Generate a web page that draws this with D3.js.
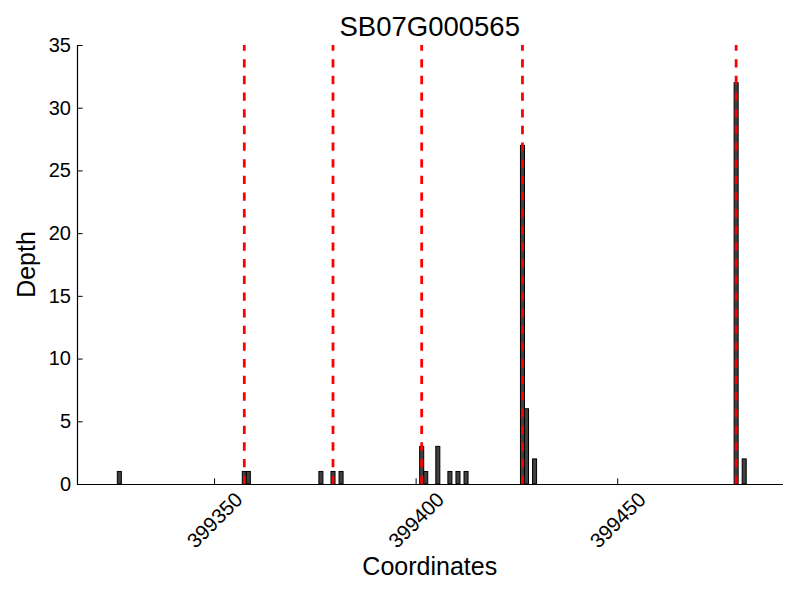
<!DOCTYPE html>
<html>
<head>
<meta charset="utf-8">
<script src="https://cdn.jsdelivr.net/npm/d3@7"></script>
<style>
    body { margin: 0; background: #ffffff; }
    svg { display: block; }
</style>
</head>
<body>
<svg id="chart_svg"></svg>
<script>
/**
 * Data
 */
var geneName = "SB07G000565";
// bin start coordinates (each bin is 1 bp wide) and read depth in it
var binStarts = [399326, 399357, 399358, 399376, 399379, 399381, 399401, 399402,
                 399405, 399408, 399410, 399412, 399426, 399427, 399429, 399479, 399481];
var depths    = [1, 1, 1, 1, 1, 1, 3, 1,
                 3, 1, 1, 1, 27, 6, 2, 32, 2];
// positions marked by the red dashed lines
var markPositions = [399357, 399379, 399401, 399426, 399479];
var xTicks = [399350, 399400, 399450];
var yTicks = [0, 5, 10, 15, 20, 25, 30, 35];

window.onload = function(){
    drawChart();
};

function drawChart() {
    var width = 800,
        height = 600,
        margin = {top: 45, bottom: 116, left: 77, right: 17.5};
    var font = "'Liberation Sans', Arial, sans-serif";

    var svg = d3.select("#chart_svg")
        .attr("width", width)
        .attr("height", height);

    var xScale = d3.scaleLinear()
        .domain([399316, 399491])
        .range([margin.left, width - margin.right]);

    var yScale = d3.scaleLinear()
        .domain([0, 35])
        .range([height - margin.bottom, margin.top]);

    var bars = binStarts.map(function(d, i){
        return {start: d, depth: depths[i]};
    });

    // bars
    svg.append("g")
        .selectAll("rect")
        .data(bars)
        .enter()
        .append("rect")
        .attr("x", function(d){ return xScale(d.start); })
        .attr("y", function(d){ return yScale(d.depth); })
        .attr("width", function(d){ return xScale(d.start + 1) - xScale(d.start); })
        .attr("height", function(d){ return yScale(0) - yScale(d.depth); })
        .style("fill", "#404040")
        .style("stroke", "#000000")
        .style("stroke-width", "1px");

    // red dashed marks, drawn from the bottom up so dashes start at 0
    svg.append("g")
        .selectAll("line")
        .data(markPositions)
        .enter()
        .append("line")
        .attr("x1", function(d){ return xScale(d + 0.5); })
        .attr("x2", function(d){ return xScale(d + 0.5); })
        .attr("y1", yScale(0))
        .attr("y2", yScale(35))
        .style("stroke", "#ff0000")
        .style("stroke-width", 2.78)
        .style("stroke-dasharray", "8.33,8.33");

    // y axis, ticks pointing inward
    var yAxis = d3.axisLeft(yScale)
        .tickValues(yTicks)
        .tickSizeInner(-5.6)
        .tickSizeOuter(0)
        .tickPadding(6);
    var gy = svg.append("g")
        .attr("transform", "translate(" + margin.left + ",0)")
        .call(yAxis);
    gy.selectAll("text")
        .style("font", "20px " + font)
        .style("fill", "#000");

    // x axis, ticks pointing inward
    var xAxis = d3.axisBottom(xScale)
        .tickValues(xTicks)
        .tickFormat(d3.format("d"))
        .tickSizeInner(-5.6)
        .tickSizeOuter(0);
    var gx = svg.append("g")
        .attr("transform", "translate(0," + yScale(0) + ")")
        .call(xAxis);
    gx.selectAll("text")
        .attr("x", 0)
        .attr("y", 36)
        .attr("dy", "0.35em")
        .attr("text-anchor", "middle")
        .attr("transform", "rotate(-45,0,36)")
        .style("font", "20.5px " + font)
        .style("fill", "#000");

    svg.selectAll(".domain")
        .style("stroke", "#000")
        .style("stroke-width", "1.2px");
    svg.selectAll(".tick line")
        .style("stroke", "#000");

    // title and axis labels
    svg.append("text")
        .attr("x", (xScale.range()[0] + xScale.range()[1]) / 2)
        .attr("y", 36)
        .attr("text-anchor", "middle")
        .style("font", "27.5px " + font)
        .text(geneName);

    svg.append("text")
        .attr("x", (xScale.range()[0] + xScale.range()[1]) / 2)
        .attr("y", 575)
        .attr("text-anchor", "middle")
        .style("font", "25px " + font)
        .text("Coordinates");

    svg.append("text")
        .attr("transform", "translate(35," + ((yScale(0) + yScale(35)) / 2) + ") rotate(-90)")
        .attr("text-anchor", "middle")
        .style("font", "25px " + font)
        .text("Depth");
}
</script>
</body>
</html>
